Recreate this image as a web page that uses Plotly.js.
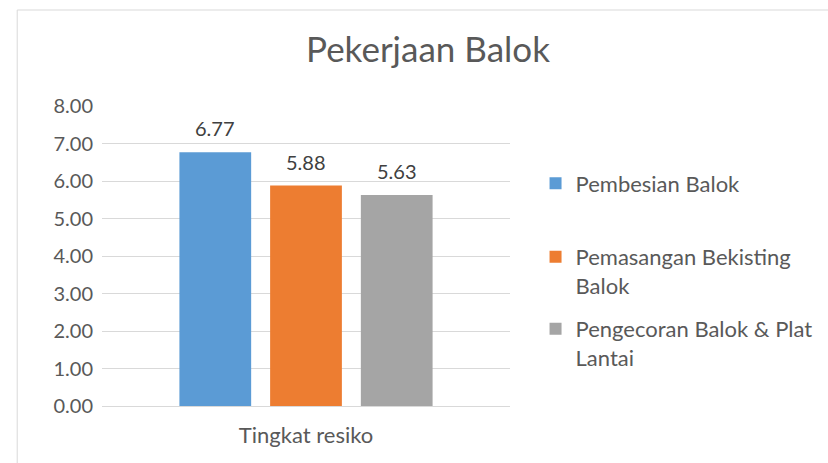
<!DOCTYPE html>
<html>
<head>
<meta charset="utf-8">
<script src="https://cdn.plot.ly/plotly-3.0.1.min.js"></script>
<style>html,body{margin:0;padding:0;background:#fff;}#chart{width:828px;height:463px;}</style>
</head>
<body>
<div id="chart"></div>
<script>
const categories = ['Tingkat resiko'];
const seriesNames = ['Pembesian Balok', 'Pemasangan Bekisting<br>Balok', 'Pengecoran Balok & Plat<br>Lantai'];
const seriesValues = [[6.77], [5.88], [5.63]];
const colors = ['#5b9bd5', '#ed7d31', '#a5a5a5'];
const yTicks = [0, 1, 2, 3, 4, 5, 6, 7, 8];

const FONT = 'Lato, "Open Sans", sans-serif';
const legendIds = ['legend', 'legend2', 'legend3'];
const legendY = [0.812, 0.567, 0.327];
const slotPx = 91;

const traces = seriesValues.map((vals, i) => ({
  type: 'bar',
  x: categories,
  y: vals,
  name: seriesNames[i],
  marker: {color: colors[i]},
  hoverinfo: 'none',
  legend: legendIds[i]
}));

const annotations = [];
seriesValues.forEach((vals, i) => {
  vals.forEach((v, j) => {
    annotations.push({
      x: categories[j], y: v, xref: 'x', yref: 'y',
      text: v.toFixed(2), showarrow: false,
      xshift: (i - 1) * slotPx, yshift: 24, yanchor: 'middle',
      font: {family: FONT, size: 20, color: '#404040'}
    });
  });
});

const mkLegend = (y) => ({
  x: 1.06, xanchor: 'left', y: y, yanchor: 'top', valign: 'top',
  font: {family: FONT, size: 22, color: '#595959'},
  bgcolor: 'rgba(0,0,0,0)', borderwidth: 0
});

const layout = {
  width: 828, height: 463,
  margin: {l: 102, r: 317, t: 106, b: 57},
  paper_bgcolor: '#ffffff', plot_bgcolor: '#ffffff',
  title: {text: 'Pekerjaan Balok', x: 428 / 828, xanchor: 'center', y: 1 - 50 / 463, yanchor: 'middle',
          font: {family: FONT, size: 35, color: '#595959'}},
  barmode: 'group', bargap: 0.333, bargroupgap: 0.209,
  showlegend: true,
  legend: mkLegend(legendY[0]),
  legend2: mkLegend(legendY[1]),
  legend3: mkLegend(legendY[2]),
  annotations: annotations,
  xaxis: {showline: false, ticks: '', tickfont: {family: FONT, size: 22, color: '#595959'}, showgrid: false, fixedrange: true, ticklabelstandoff: 14},
  yaxis: {range: [0, 8], tickvals: yTicks, ticktext: yTicks.map(v => v.toFixed(2)), showgrid: true, gridcolor: '#d9d9d9', gridwidth: 1,
          zeroline: true, zerolinecolor: '#d9d9d9', zerolinewidth: 1, showline: false, ticks: '',
          tickfont: {family: FONT, size: 20, color: '#595959'}, ticklabelstandoff: 8, fixedrange: true},
  shapes: [{type: 'rect', xref: 'paper', yref: 'paper',
            x0: (17 - 102) / 409, x1: (840 - 102) / 409, y0: (406 - 480) / 300, y1: (406 - 10) / 300,
            line: {color: '#d9d9d9', width: 1}, fillcolor: 'rgba(0,0,0,0)', layer: 'below'}]
};

Plotly.newPlot('chart', traces, layout, {displayModeBar: false, staticPlot: true});
</script>
</body>
</html>
